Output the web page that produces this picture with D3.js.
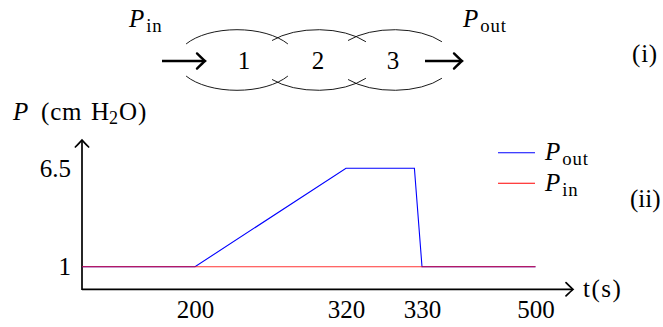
<!DOCTYPE html>
<html>
<head>
<meta charset="utf-8">
<script src="https://cdn.jsdelivr.net/npm/d3@7"></script>
<style>
  body { margin: 0; background: #fff; }
</style>
</head>
<body>
<svg id="chart" width="663" height="327"></svg>
<script>
// ---------- data ----------
const tTicks = [200, 320, 330, 500];
const tBreaks = [0, 200, 320, 330, 500];
const pTicks = [1, 6.5];
const poutT = [0, 200, 320, 329, 330, 500];
const poutP = [1, 1, 6.5, 6.5, 1, 1];
const pinT = [0, 500];
const pinP = [1, 1];
const cells = ['1', '2', '3'];
const seriesNames = ['out', 'in'];
const seriesColors = ['#0000ff', '#ff0000'];

const FONT = 'Liberation Serif';
const svg = d3.select('#chart');

// piecewise x scale (axis in the picture is not to scale)
const x = d3.scaleLinear().domain(tBreaks).range([82, 195, 346, 422, 535.5]);
const y = d3.scaleLinear().domain([1, 6.5]).range([266.7, 168.3]);

const axisY0 = 289.3;

function txt(g, tx, ty, size) {
  return g.append('text')
    .attr('x', tx).attr('y', ty)
    .attr('fill', '#000')
    .attr('font-family', FONT)
    .attr('font-size', size);
}

function arrowHead(g, tx, ty, angle, size, width) {
  g.append('path')
    .attr('d', `M${-size},${-size * 0.95} Q${-size * 0.25},${-size * 0.2} 0,0 Q${-size * 0.25},${size * 0.2} ${-size},${size * 0.95}`)
    .attr('transform', `translate(${tx},${ty}) rotate(${angle})`)
    .attr('fill', 'none')
    .attr('stroke', '#000')
    .attr('stroke-width', width)
    .attr('stroke-linecap', 'round');
}

// P label with subscript
function pLabel(g, px, py, sub, size) {
  const t = txt(g, px, py, size);
  t.append('tspan').attr('font-style', 'italic').text('P');
  t.append('tspan').attr('dx', 2).attr('dy', size * 0.2)
    .attr('font-size', size * 0.75).attr('letter-spacing', 0.8).text(sub);
  return t;
}

// ---------- (i) diagram ----------
const diag = svg.append('g');
const cellX = [237, 318, 394];
const numX = [244, 318, 393];
const cy = 60, rx = 60, ry = 30.3;
const rad = a => a * Math.PI / 180;
const pt = (cx, a) => [cx + rx * Math.cos(rad(a)), cy - ry * Math.sin(rad(a))];

cells.forEach((c, i) => {
  const a1 = i === 0 ? 148 : 140, a2 = i === 0 ? 32 : 37;
  const p1 = pt(cellX[i], a1), p2 = pt(cellX[i], a2);
  const q1 = pt(cellX[i], -a1), q2 = pt(cellX[i], -a2);
  diag.append('path')
    .attr('d', `M${p1[0]},${p1[1]} A${rx},${ry} 0 0 1 ${p2[0]},${p2[1]}`)
    .attr('fill', 'none').attr('stroke', '#000').attr('stroke-width', 0.9);
  diag.append('path')
    .attr('d', `M${q1[0]},${q1[1]} A${rx},${ry} 0 0 0 ${q2[0]},${q2[1]}`)
    .attr('fill', 'none').attr('stroke', '#000').attr('stroke-width', 0.9);
  txt(diag, numX[i], 69, 25)
    .attr('text-anchor', 'middle')
    .text(c);
});

[[162, 205], [425, 462]].forEach(([a, b]) => {
  diag.append('line')
    .attr('x1', a).attr('x2', b - 1).attr('y1', 61).attr('y2', 61)
    .attr('stroke', '#000').attr('stroke-width', 2.6);
  arrowHead(diag, b, 61, 0, 8, 2.4);
});

pLabel(diag, 129, 27, 'in', 25);
pLabel(diag, 463, 27, 'out', 25);
txt(diag, 632, 62, 25).attr('letter-spacing', 0.8).text('(i)');

// ---------- (ii) chart ----------
const chart = svg.append('g');

// axes
chart.append('line')
  .attr('x1', x(0)).attr('x2', 572).attr('y1', axisY0).attr('y2', axisY0)
  .attr('stroke', '#000').attr('stroke-width', 1.7);
arrowHead(chart, 573, axisY0, 0, 7, 1.7);
chart.append('line')
  .attr('x1', x(0)).attr('x2', x(0)).attr('y1', axisY0 + 0.8).attr('y2', 141)
  .attr('stroke', '#000').attr('stroke-width', 1.7);
arrowHead(chart, x(0), 140, -90, 7, 1.7);

const xAxis = d3.axisBottom(x).tickValues(tTicks).tickSize(0).tickPadding(0).tickFormat(d3.format('d'));
const gx = chart.append('g').attr('transform', `translate(0,${axisY0})`).call(xAxis);
gx.attr('font-family', FONT).attr('font-size', 25);
gx.select('.domain').remove();
gx.selectAll('text')
  .attr('y', 28.5).attr('dy', 0)
  .attr('fill', '#000');

const yAxis = d3.axisLeft(y).tickValues(pTicks).tickSize(0).tickPadding(0).tickFormat(d => d);
const gy = chart.append('g').attr('transform', `translate(${x(0)},0)`).call(yAxis);
gy.attr('font-family', FONT).attr('font-size', 25);
gy.select('.domain').remove();
gy.selectAll('text')
  .attr('x', -11).attr('dy', '0.33em')
  .attr('fill', '#000');

// axis labels
const yl = txt(chart, 13, 120, 25);
yl.append('tspan').attr('font-style', 'italic').text('P');
yl.append('tspan').attr('x', 41).attr('letter-spacing', 0.8).text('(cm');
yl.append('tspan').attr('x', 91).text('H');
yl.append('tspan').attr('dy', 4).attr('font-size', 18).text('2');
yl.append('tspan').attr('dy', -4).attr('dx', 1).attr('letter-spacing', 0.8).text('O)');
txt(chart, 583, 297, 25).attr('letter-spacing', 1.5).text('t(s)');

// series
const line = d3.line().x(d => x(d[0])).y(d => y(d[1]));
const series = [
  d3.zip(poutT, poutP),
  d3.zip(pinT, pinP)
];
chart.selectAll('.series')
  .data(series)
  .join('path')
    .attr('class', 'series')
    .attr('d', line)
    .attr('fill', 'none')
    .attr('stroke', (d, i) => seriesColors[i])
    .attr('stroke-width', 1.1)
    .attr('stroke-opacity', (d, i) => i === 1 ? 0.8 : 1);

// legend
const legendY = [152.7, 183.3];
seriesNames.forEach((s, i) => {
  chart.append('line')
    .attr('x1', 498).attr('x2', 535).attr('y1', legendY[i]).attr('y2', legendY[i])
    .attr('stroke', seriesColors[i]).attr('stroke-width', 1.1);
  pLabel(chart, 545, legendY[i] + 7.5, s, 25);
});
txt(chart, 630, 207, 25).text('(ii)');
</script>
</body>
</html>
